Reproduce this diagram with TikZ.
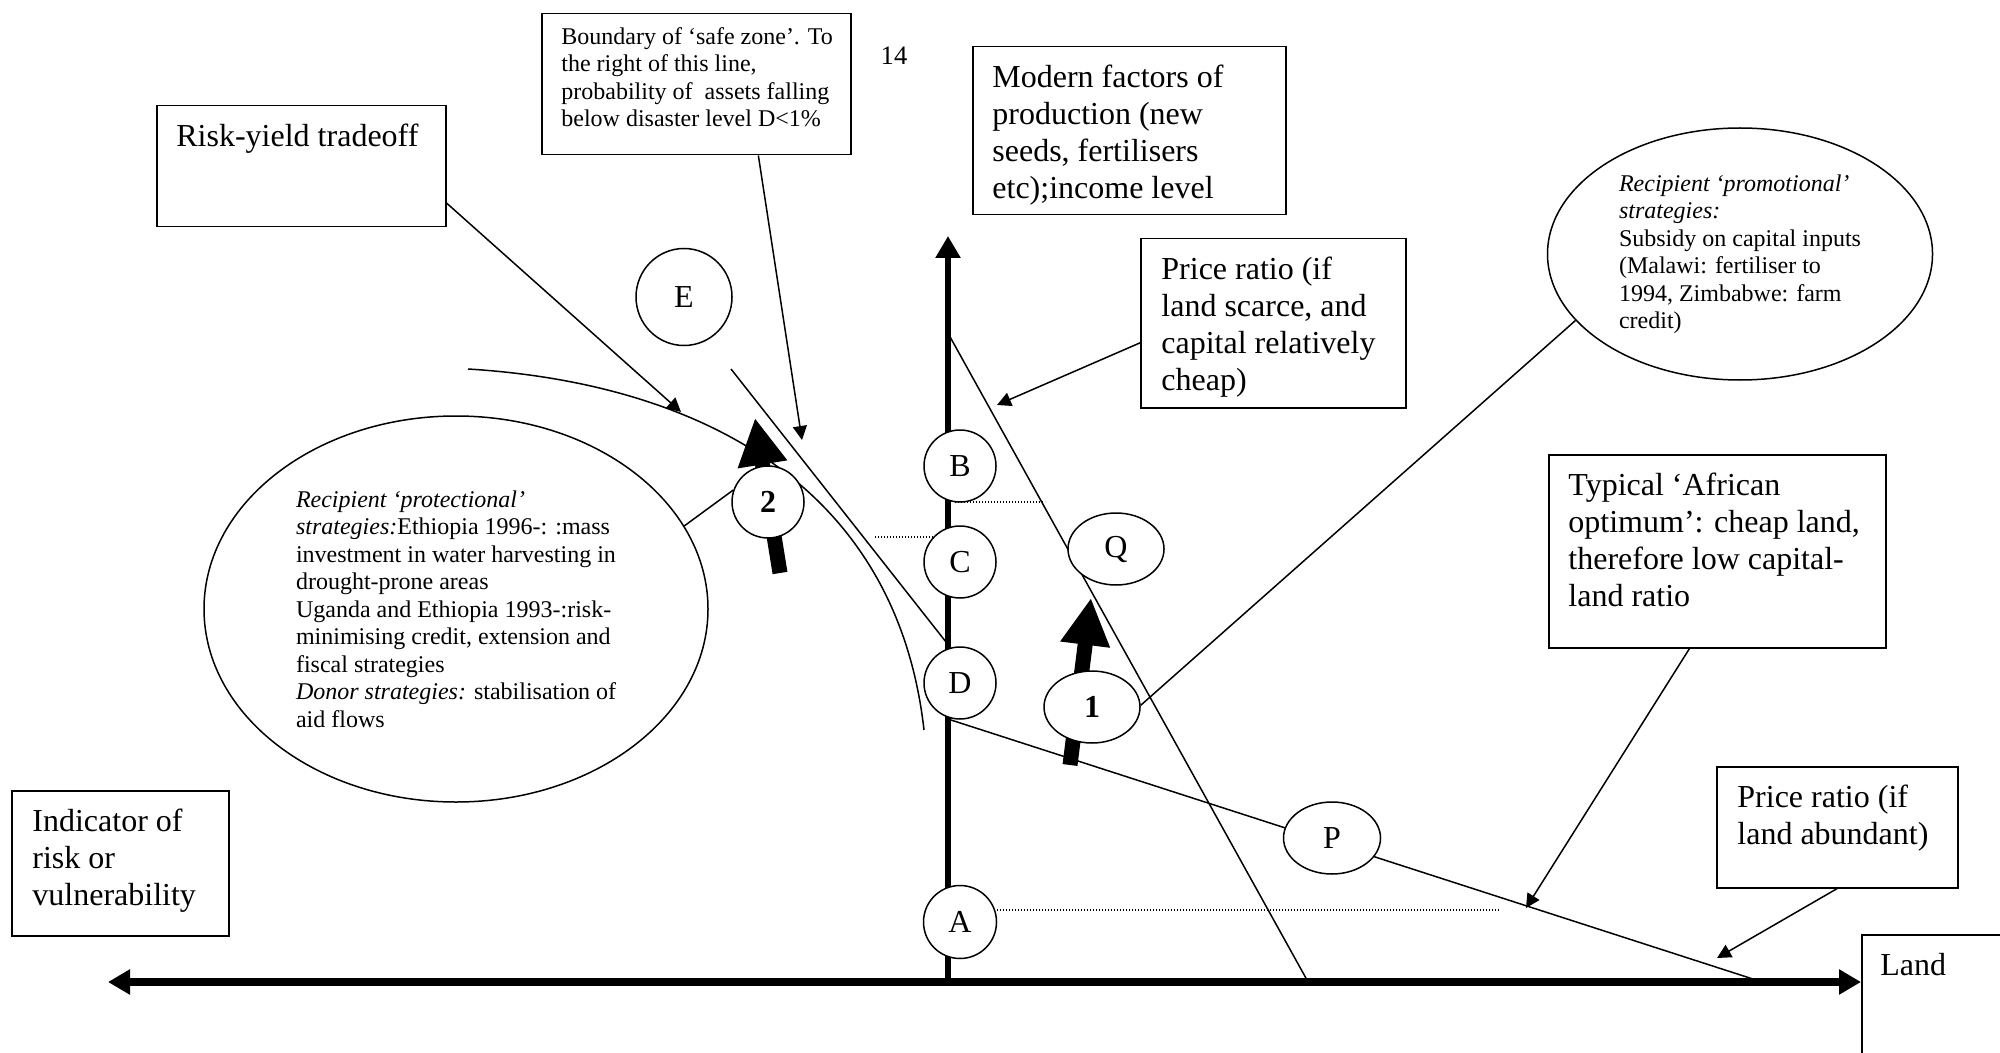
\documentclass[tikz,border=0pt]{standalone}
\usepackage{fontspec}
\setmainfont{Liberation Serif}
\usetikzlibrary{arrows.meta,shapes.geometric,calc}
\newcommand{\myBig}{\fontsize{16pt}{18.4pt}\selectfont}
\newcommand{\mySmall}{\fontsize{12pt}{13.75pt}\selectfont}
\begin{document}
\begin{tikzpicture}[x=0.5pt,y=-0.5pt,
  box/.style={draw, line width=0.75pt, fill=white, inner sep=0pt, anchor=north west},
  txt/.style={inner sep=0pt, anchor=north west, align=left, font=\myBig},
  circ/.style={draw, ellipse, fill=white, line width=0.75pt, inner sep=0pt, font=\myBig},
  conn/.style={line width=0.75pt, -{Triangle[length=7pt,width=7pt]}},
  plain/.style={line width=0.75pt},
  dots/.style={line width=0.6pt, dash pattern=on 0.6pt off 0.9pt},
  bigarrow/.style={line width=7.5pt, -{Triangle[length=23.5pt,width=23.5pt]}},
]
\useasboundingbox (0,0) rectangle (2000,1053);
\clip (0,0) rectangle (2000,1053);
\fill[white] (0,0) rectangle (2000,1053);

% axis coordinates
\coordinate (O) at (948,982);
\coordinate (ytop) at (948,236);
\coordinate (xl) at (108,982);
\coordinate (xr) at (1861,982);

% risk-yield curve
\coordinate (ry1) at (468,369);
\coordinate (ry2) at (924,730);
\draw[plain] (ry1) .. controls (695,383) and (896,482) .. (ry2);
% safe zone boundary
\coordinate (sz1) at (731,369);
\coordinate (sz2) at (946,642);
\draw[plain] (sz1) -- (sz2);
% price ratio lines
\coordinate (st1) at (949,335);
\coordinate (st2) at (1307,980);
\draw[plain] (st1) -- (st2);
\coordinate (fl1) at (951,720);
\coordinate (fl2) at (1756,980);
\draw[plain] (fl1) -- (fl2);

% dotted guides
\coordinate (dB1) at (955,502); \coordinate (dB2) at (1045,502);
\coordinate (dC1) at (875,537); \coordinate (dC2) at (934,537);
\coordinate (dA1) at (997,910); \coordinate (dA2) at (1500,910);
\draw[dots] (dB1) -- (dB2);
\draw[dots] (dC1) -- (dC2);
\draw[dots] (dA1) -- (dA2);

% axes
\draw[line width=3.75pt, {Triangle[length=11pt,width=12pt]}-{Triangle[length=11pt,width=12pt]}] (xl) -- (xr);
\draw[line width=3pt, -{Triangle[length=11pt,width=12pt]}] (O) -- (ytop);

% big arrows
\coordinate (a2s) at (780,573); \coordinate (a2t) at (755,418);
\draw[bigarrow] (a2s) -- (a2t);
\coordinate (a1s) at (1070,765); \coordinate (a1t) at (1091,598);
\draw[bigarrow] (a1s) -- (a1t);

% circles
\node[circ, minimum width=48pt, minimum height=48.5pt] (E) at (684,297) {E};
\node[circ, minimum size=36pt] (B) at (960,466) {B};
\node[circ, minimum size=36pt] (C) at (960,562) {C};
\node[circ, minimum size=36pt] (D) at (960,683) {D};
\node[circ, minimum size=36.5pt] (A) at (960,922) {A};
\node[circ, minimum size=36pt, font=\myBig\bfseries] (two) at (768,502) {2};
\node[circ, minimum width=48pt, minimum height=36pt] (Q) at (1116,549) {Q};
\node[circ, minimum width=48pt, minimum height=36pt, font=\myBig\bfseries] (one) at (1092,707) {1};
\node[circ, minimum width=48.5pt, minimum height=36pt] (P) at (1332,838) {P};

% strategy ellipses
\node[circ, minimum width=252pt, minimum height=193pt, font=\mySmall, align=left] (prot) at (456,609)
 {\textit{Recipient ‘protectional’}\\
  \textit{strategies:}Ethiopia 1996-: :mass\\
  investment in water harvesting in\\
  drought-prone areas\\
  Uganda and Ethiopia 1993-:risk-\\
  minimising credit, extension and\\
  fiscal strategies\\
  \textit{Donor strategies:} stabilisation of\\
  aid flows};
\node[circ, minimum width=192.5pt, minimum height=126pt, font=\mySmall, align=left] (prom) at (1740,254)
 {\textit{Recipient ‘promotional’}\\
  \textit{strategies:}\\
  Subsidy on capital inputs\\
  (Malawi: fertiliser to\\
  1994, Zimbabwe: farm\\
  credit)};

% boxes
\node[box, minimum width=154.5pt, minimum height=70.5pt] (bd) at (541,13) {};
\node[txt, font=\mySmall] (bdt) at (561,27) {Boundary of ‘safe zone’. To\\the right of this line,\\probability of\ \ assets falling\\below disaster level D<1\%};
\node[box, minimum width=144.5pt, minimum height=60.5pt] (rb) at (156,105) {};
\node[txt] (rbt) at (176,124) {Risk-yield tradeoff};
\node[box, minimum width=156.5pt, minimum height=84pt] (mf) at (972,46) {};
\node[txt] (mft) at (992,65) {Modern factors of\\production (new\\seeds, fertilisers\\etc);income level};
\node[box, minimum width=132.5pt, minimum height=84.5pt] (ps) at (1140,238) {};
\node[txt] (pst) at (1161,257) {Price ratio (if\\land scarce, and\\capital relatively\\cheap)};
\node[box, minimum width=168.5pt, minimum height=96.5pt] (typ) at (1548,454) {};
\node[txt] (typt) at (1568,473) {Typical ‘African\\optimum’: cheap land,\\therefore low capital-\\land ratio};
\node[box, minimum width=120.5pt, minimum height=60.5pt] (pa) at (1716,766) {};
\node[txt] (pat) at (1737,785) {Price ratio (if\\land abundant)};
\node[box, minimum width=108.5pt, minimum height=72.5pt] (ind) at (11,790) {};
\node[txt] (indt) at (32,809) {Indicator of\\risk or\\vulnerability};
\node[box, minimum width=100pt, minimum height=75pt] (land) at (1861,934) {};
\node[txt] (landt) at (1880,953) {Land};

\node[inner sep=0pt, font=\fontsize{13.3pt}{15pt}\selectfont] (pg) at (894,56) {14};

% connectors
\coordinate (sztip) at (802,440);
\coordinate (rytip) at (681,412);
\coordinate (pstip) at (997,405);
\coordinate (typtip) at (1526,908);
\coordinate (patip) at (1717,958);
\draw[conn] ($(bd.south west)!0.70!(bd.south east)$) -- (sztip);
\draw[conn] ($(rb.north east)!0.8!(rb.south east)$) -- (rytip);
\draw[conn] ($(ps.north west)!0.615!(ps.south west)$) -- (pstip);
\draw[conn] ($(typ.south west)!0.418!(typ.south east)$) -- (typtip);
\draw[conn] (pa.south) -- (patip);
\draw[plain] (prom.202) -- (one.2);
\draw[plain] (prot.20) -- (two.161);
\end{tikzpicture}
\end{document}
